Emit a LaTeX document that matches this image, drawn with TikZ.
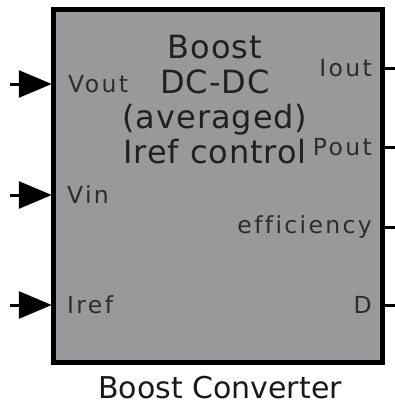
\documentclass[tikz,border=0pt]{standalone}
\usepackage{fontspec}
\setmainfont{DejaVu Sans}
\usepackage{tikz}
\usetikzlibrary{arrows.meta, positioning}
\definecolor{blockgray}{RGB}{153, 153, 156}
\definecolor{labelgray}{RGB}{45, 45, 45}

\begin{document}
\begin{tikzpicture}[
    x=1pt, y=-1pt,
    block/.style={rectangle, draw=black, fill=blockgray, line width=4.5pt,
                  minimum width=329pt, minimum height=353pt, inner sep=0pt},
    port/.style={font=\fontsize{23.5}{26}\selectfont\addfontfeatures{LetterSpace=10, Ligatures=NoCommon},
                 text=labelgray, inner sep=0pt},
    inarrow/.style={-{Triangle[length=33pt, width=27pt]}, line width=3pt, shorten >=-0.5pt},
    outline/.style={line width=3pt},
    title/.style={font=\fontsize{32}{35}\selectfont\addfontfeatures{LetterSpace=3},
                  text=labelgray!70!black, align=center, inner sep=0pt}
]
    \useasboundingbox (0,0) rectangle (395,407);

    \node[block] (blk) at (218,186) {};
    \node[title] (name) at (215,100) {Boost\\DC-DC\\(averaged)\\Iref control};

    % inputs
    \node[port, anchor=west] (vout) at (68,84) {Vout};
    \node[port, anchor=west] (vin)  at (67,195) {Vin};
    \node[port, anchor=west] (iref) at (67,305) {Iref};
    \coordinate (vout0) at (10,84);
    \coordinate (vin0)  at (10,195);
    \coordinate (iref0) at (10,305);
    \draw[inarrow] (vout0) -- (vout0 -| blk.west);
    \draw[inarrow] (vin0)  -- (vin0 -| blk.west);
    \draw[inarrow] (iref0) -- (iref0 -| blk.west);

    % outputs
    \node[port, anchor=east] (iout) at (372,68)  {Iout};
    \node[port, anchor=east] (pout) at (372,147) {Pout};
    \node[port, anchor=east] (eff)  at (372,227) {efficiency};
    \node[port, anchor=east] (duty) at (372,305) {D};
    \coordinate (iout1) at (395,68);
    \coordinate (pout1) at (395,147);
    \coordinate (eff1)  at (395,227);
    \coordinate (duty1) at (395,305);
    \draw[outline] (iout1 -| blk.east) -- (iout1);
    \draw[outline] (pout1 -| blk.east) -- (pout1);
    \draw[outline] (eff1 -| blk.east) -- (eff1);
    \draw[outline] (duty1 -| blk.east) -- (duty1);

    \node[font=\fontsize{30}{32}\selectfont, text=black!90, inner sep=0pt] (caption)
        at (220,388) {Boost Converter};
\end{tikzpicture}
\end{document}
